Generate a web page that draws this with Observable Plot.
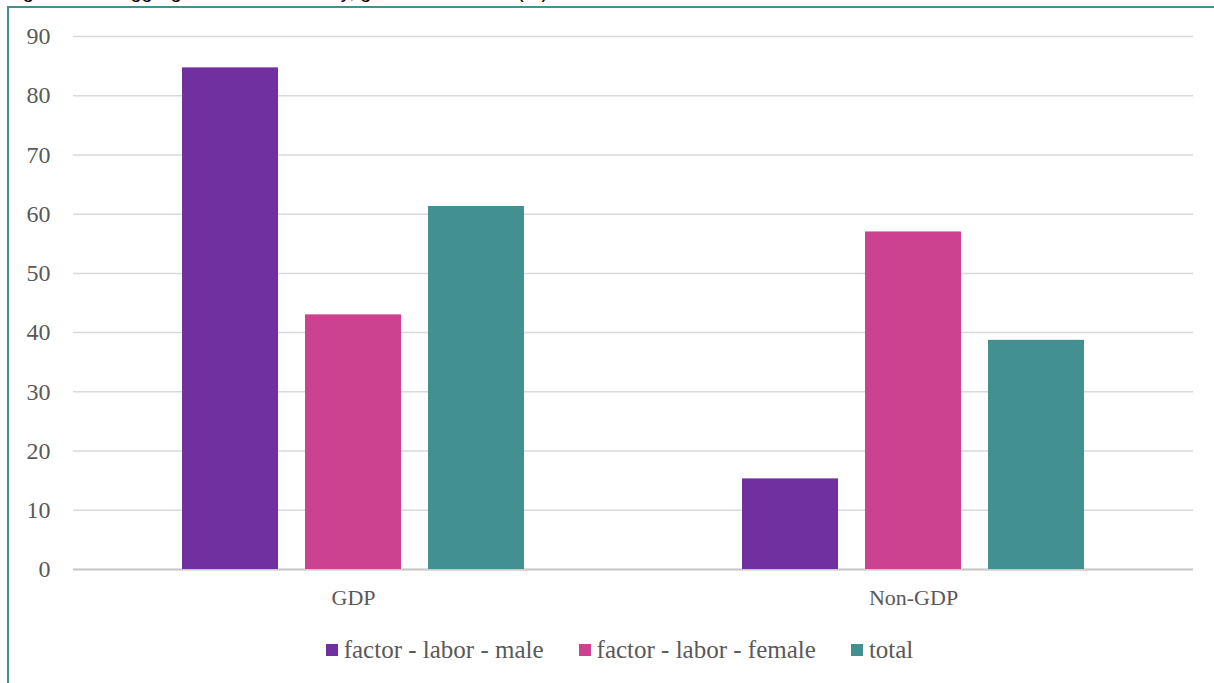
<!DOCTYPE html>
<html>
<head>
<meta charset="utf-8">
<script src="https://cdn.jsdelivr.net/npm/d3@7"></script>
<script src="https://cdn.jsdelivr.net/npm/@observablehq/plot@0.6"></script>
<style>
  html, body { margin: 0; padding: 0; background: #fff; }
  body { width: 1214px; height: 683px; overflow: hidden; position: relative; }
  #title { position: absolute; left: 6px; top: -20.5px; font: 20px "Liberation Sans", sans-serif; color: #000; white-space: nowrap; }
  #frame { position: absolute; left: 7px; top: 6px; width: 1300px; height: 800px; box-sizing: border-box;
           border-left: 2px solid #429090; border-top: 2px solid #429090; }
  #chart { position: absolute; left: 0; top: 0; }
  #legend { position: absolute; left: 0; top: 636px; width: 1239px; display: flex; justify-content: center;
            gap: 35px; font: 25px "Liberation Serif", serif; color: #595959; }
  #legend .item { display: flex; align-items: center; gap: 6px; }
  #legend .swatch { width: 12px; height: 12px; }
</style>
</head>
<body>
<div id="title">Figure 3: Disaggregated total economy, gender and labor (%)</div>
<div id="frame"></div>
<div id="chart"></div>
<div id="legend"></div>
<script>
// Share of each group's value split between GDP and non-GDP work (%)
const categories = ["GDP", "Non-GDP"];
const series = ["factor - labor - male", "factor - labor - female", "total"];
const maleValues = [84.7, 15.3];
const femaleValues = [43.0, 57.0];
const totalValues = [61.3, 38.7];
const seriesColors = ["#7030a0", "#cc4190", "#429090"];
const yTicks = [0, 10, 20, 30, 40, 50, 60, 70, 80, 90];

const valuesBySeries = [maleValues, femaleValues, totalValues];
const rows = categories.flatMap((category, i) =>
  series.map((name, j) => ({category, series: name, value: valuesBySeries[j][i]}))
);

const chart = Plot.plot({
  width: 1214,
  height: 620,
  marginLeft: 73,
  marginRight: 21,
  marginTop: 36,
  marginBottom: 51,
  style: {fontFamily: "'Liberation Serif', serif", color: "#595959", background: "transparent"},
  fx: {domain: categories, padding: 0, label: null},
  x: {domain: series, paddingInner: 0.218, paddingOuter: 0.871, axis: null},
  y: {domain: [0, 90], label: null},
  color: {domain: series, range: seriesColors},
  marks: [
    Plot.gridY(yTicks, {stroke: "#d9d9d9", strokeOpacity: 1, strokeWidth: 1.5}),
    Plot.ruleY([0], {stroke: "#c8c8c8", strokeWidth: 1.8}),
    Plot.axisY(yTicks, {tickSize: 0, tickPadding: 23, fontSize: 24, fill: "#595959", label: null}),
    Plot.axisFx({anchor: "bottom", tickSize: 0, tickPadding: 20, fontSize: 22, fill: "#595959", label: null}),
    Plot.barY(rows, {fx: "category", x: "series", y: "value", fill: "series"})
  ]
});
document.getElementById("chart").appendChild(chart);

// Legend built from the same series and colours
const legend = d3.select("#legend");
const items = legend.selectAll(".item").data(series).join("div").attr("class", "item");
items.append("div").attr("class", "swatch").style("background", (d, i) => seriesColors[i]);
items.append("span").text(d => d);
</script>
</body>
</html>
